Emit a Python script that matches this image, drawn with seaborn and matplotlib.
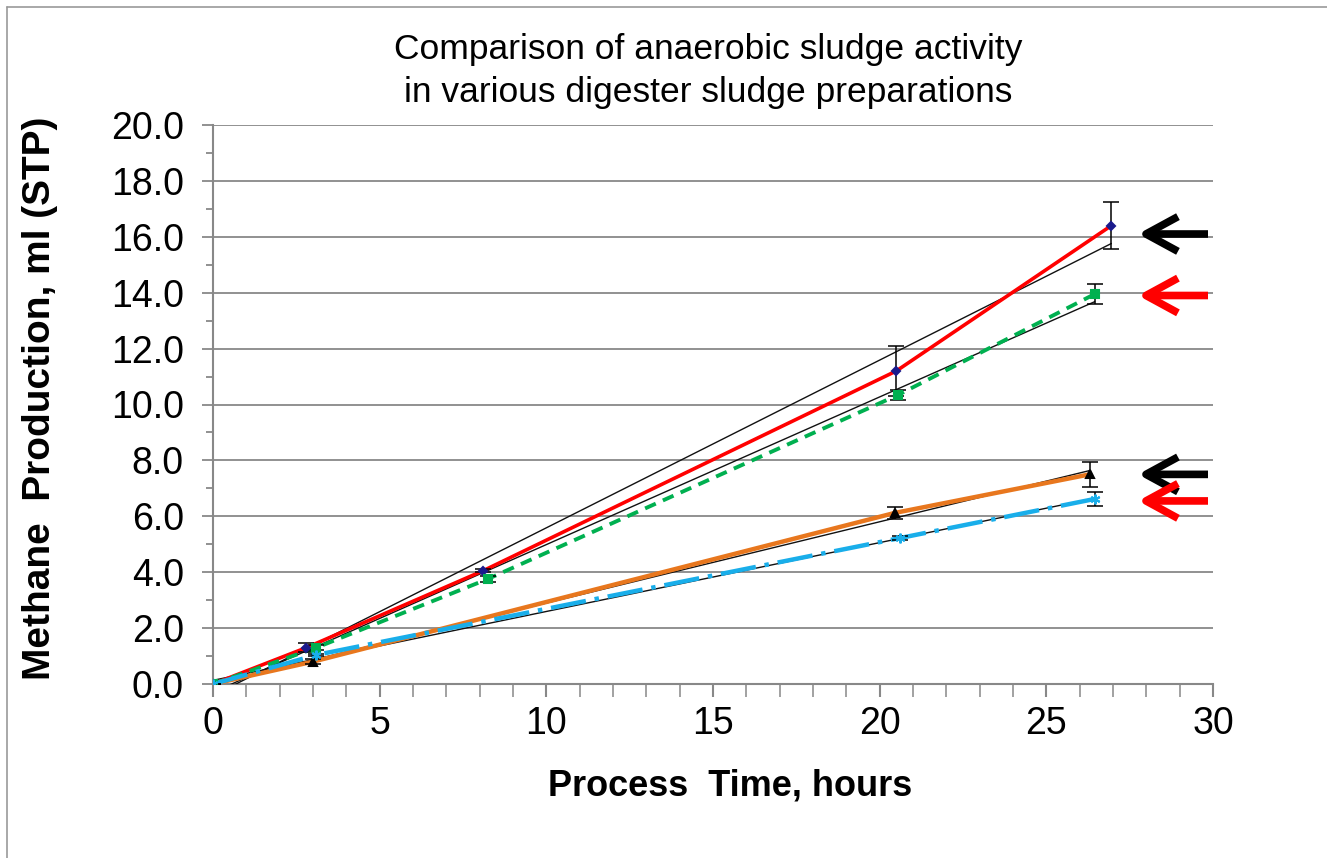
import numpy as np
import pandas as pd
import matplotlib
matplotlib.use("Agg")
import matplotlib.pyplot as plt
import seaborn as sns
from matplotlib.lines import Line2D
from matplotlib.patches import FancyArrowPatch, ArrowStyle
from matplotlib.ticker import MultipleLocator, FormatStrFormatter

# ---------------- data ----------------
s1_time = [0.0, 2.8, 8.1, 20.5, 26.95]
s1_ch4 = [0.0, 1.3, 4.05, 11.2, 16.4]
s1_err = [0.0, 0.15, 0.05, 0.9, 0.85]

s2_time = [0.0, 3.1, 8.25, 20.55, 26.45]
s2_ch4 = [0.0, 1.3, 3.76, 10.34, 13.95]
s2_err = [0.0, 0.1, 0.1, 0.18, 0.35]

s3_time = [0.0, 3.0, 20.45, 26.3]
s3_ch4 = [0.0, 0.8, 6.12, 7.5]
s3_err = [0.0, 0.1, 0.2, 0.45]

s4_time = [0.0, 3.1, 20.6, 26.45]
s4_ch4 = [0.0, 1.04, 5.22, 6.62]
s4_err = [0.0, 0.05, 0.08, 0.25]

arrow_levels = [16.1, 13.9, 7.5, 6.55]
arrow_colors = ["black", "red", "black", "red"]
arrow_x = [27.75, 29.85]

title_text = "Comparison of anaerobic sludge activity\nin various digester sludge preparations"
xlabel_text = "Process  Time, hours"
ylabel_text = "Methane  Production, ml (STP)"

series = [
    dict(t=s1_time, y=s1_ch4, e=s1_err, color="#FF0000", ls="-", lw=2.6,
         marker="D", mfc="#1A1A8C", mec="#1A1A8C", ms=4.5),
    dict(t=s2_time, y=s2_ch4, e=s2_err, color="#00B050", ls=(0, (3, 2)), lw=2.8,
         marker="s", mfc="#00B050", mec="#00B050", ms=6),
    dict(t=s3_time, y=s3_ch4, e=s3_err, color="#E8771E", ls="-", lw=3.2,
         marker="^", mfc="black", mec="black", ms=5.5),
    dict(t=s4_time, y=s4_ch4, e=s4_err, color="#19AEEA", ls=(0, (8, 2, 1, 2)), lw=3.2,
         marker=(6, 2, 0), mfc="#19AEEA", mec="#19AEEA", ms=7),
]

# ---------------- style ----------------
sns.set_theme(style="white")
plt.rcParams["font.family"] = ["Liberation Sans", "DejaVu Sans"]
plt.rcParams["text.color"] = "black"
plt.rcParams["axes.labelcolor"] = "black"

W, H = 1327, 858
fig = plt.figure(figsize=(W / 100, H / 100), dpi=100)
ax = fig.add_axes([213 / W, 1 - 684 / H, 1000 / W, 559 / H])

grid_c = "#888888"

for s in series:
    df = pd.DataFrame({"t": s["t"], "y": s["y"]})
    # linear trend lines (black thin)
    sns.regplot(data=df, x="t", y="y", ax=ax, scatter=False, ci=None, truncate=True,
                line_kws=dict(color="#111111", lw=1.0, zorder=3))
for s in series:
    df = pd.DataFrame({"t": s["t"], "y": s["y"]})
    sns.lineplot(data=df, x="t", y="y", ax=ax, color=s["color"], lw=s["lw"],
                 linestyle=s["ls"], zorder=4, legend=False)
    ax.errorbar(s["t"], s["y"], yerr=s["e"], fmt="none", ecolor="black",
                elinewidth=1.1, capsize=6, capthick=1.1, zorder=5)
    ax.plot(s["t"], s["y"], linestyle="none", marker=s["marker"], ms=s["ms"],
            mfc=s["mfc"], mec=s["mec"], mew=1.5, zorder=6)

for lev, col in zip(arrow_levels, arrow_colors):
    arr = FancyArrowPatch((arrow_x[1], lev), (arrow_x[0], lev),
                          arrowstyle=ArrowStyle("->", head_length=2.3, head_width=1.25),
                          mutation_scale=10, color=col, lw=5.5,
                          joinstyle="round", capstyle="butt", zorder=6,
                          shrinkA=0, shrinkB=0)
    ax.add_patch(arr)

ax.set_xlim(0, 30)
ax.set_ylim(0, 20)
ax.xaxis.set_major_locator(MultipleLocator(5))
ax.xaxis.set_minor_locator(MultipleLocator(1))
ax.yaxis.set_major_locator(MultipleLocator(2))
ax.yaxis.set_minor_locator(MultipleLocator(1))
ax.yaxis.set_major_formatter(FormatStrFormatter("%.1f"))

ax.grid(False)
ax.yaxis.grid(True, which="major", color=grid_c, lw=1.3)
ax.set_axisbelow(True)
for side in ["top", "right"]:
    ax.spines[side].set_visible(False)
for side in ["left", "bottom"]:
    ax.spines[side].set_color(grid_c)
    ax.spines[side].set_linewidth(1.5)

ax.tick_params(axis="both", which="both", direction="out", color=grid_c,
               labelsize=27, labelcolor="black")
ax.tick_params(axis="y", which="major", length=8, width=1.3, left=True, pad=13)
ax.tick_params(axis="y", which="minor", length=5, width=1.3, left=True)
ax.tick_params(axis="x", which="major", length=9, width=1.5, bottom=True, pad=7)
ax.tick_params(axis="x", which="minor", length=9, width=1.1, bottom=True)

ax.set_xlabel(xlabel_text, fontsize=26, fontweight="bold", va="center", ha="center",
              color="black")
ax.xaxis.set_label_coords((730 - 213) / 1000, (684 - 786) / 559)
ax.set_ylabel(ylabel_text, fontsize=28, fontweight="bold", va="center", ha="center",
              color="black")
ax.yaxis.set_label_coords((40 - 213) / 1000, (684 - 398) / 559)

fig.text(708 / W, 1 - 71 / H, title_text, ha="center", va="center",
         fontsize=25.5, linespacing=1.42, color="black")

# outer chart border (left and top edges visible)
fig.add_artist(Line2D([6.5 / W, 6.5 / W], [0, 1 - 7 / H], transform=fig.transFigure,
                      color="#999999", lw=1.2))
fig.add_artist(Line2D([6.5 / W, 1], [1 - 7 / H, 1 - 7 / H], transform=fig.transFigure,
                      color="#999999", lw=1.2))

fig.savefig("out.png", dpi=100, facecolor="white")
